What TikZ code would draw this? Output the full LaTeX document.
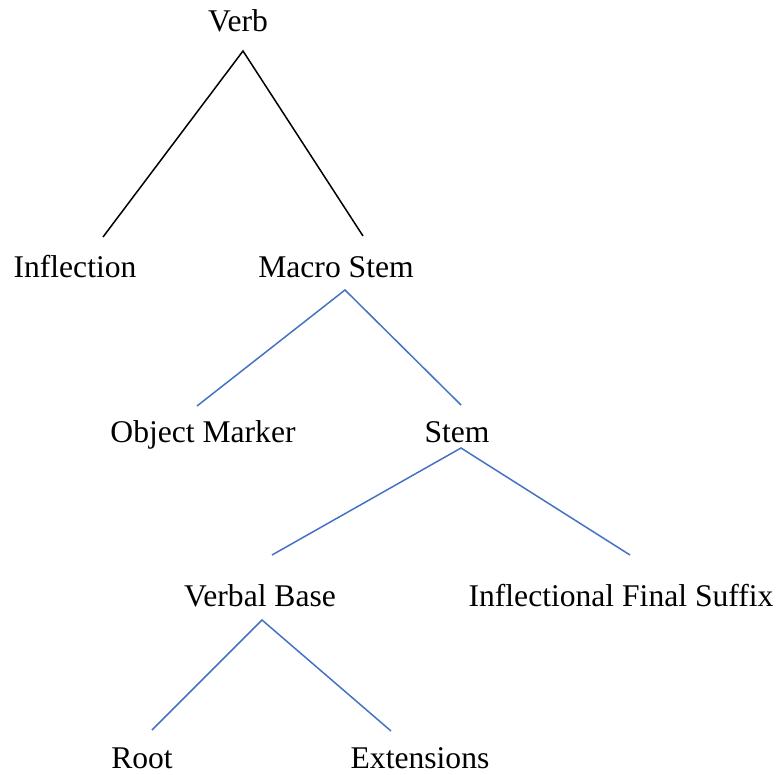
\documentclass[tikz,border=0pt]{standalone}
\usepackage{fontspec}
\setmainfont{Liberation Serif}
\definecolor{treeblue}{RGB}{68, 114, 196}
\usetikzlibrary{positioning}
\tikzset{
    word/.style={anchor=base, inner sep=0pt, font=\fontsize{15.8}{19}\selectfont},
    toplink/.style={black, line width=0.75pt},
    sublink/.style={treeblue, line width=0.75pt}
}

\begin{document}
\begin{tikzpicture}[x=0.5pt, y=-0.5pt]
            \useasboundingbox (0,0) rectangle (779,774);
            % Words of the tree
            \node[word] (verb) at (238,32) {Verb};
            \node[word] (infl) at (75,278) {Inflection};
            \node[word] (macro) at (336,278) {Macro Stem};
            \node[word] (obj) at (203,442) {Object Marker};
            \node[word] (stem) at (457,442) {Stem};
            \node[word] (base) at (260,606) {Verbal Base};
            \node[word] (suffix) at (621,606) {Inflectional Final Suffix};
            \node[word] (root) at (142,768) {Root};
            \node[word] (ext) at (420,768) {Extensions};
            
            % Branch points
            \coordinate (verb-top) at (243,51);
            \coordinate (infl-end) at (103,237);
            \coordinate (macro-end) at (363,236);
            \coordinate (macro-top) at (345,290);
            \coordinate (obj-end) at (197,406);
            \coordinate (stem-end) at (461,405);
            \coordinate (stem-top) at (461,448);
            \coordinate (base-end) at (272,555);
            \coordinate (suffix-end) at (630,555);
            \coordinate (base-top) at (262,620);
            \coordinate (root-end) at (152,730);
            \coordinate (ext-end) at (391,731);
            
            % Branches
            \draw[toplink] (infl-end) -- (verb-top) -- (macro-end);
            \draw[sublink] (obj-end) -- (macro-top) -- (stem-end);
            \draw[sublink] (base-end) -- (stem-top) -- (suffix-end);
            \draw[sublink] (root-end) -- (base-top) -- (ext-end);
        \end{tikzpicture}
\end{document}
